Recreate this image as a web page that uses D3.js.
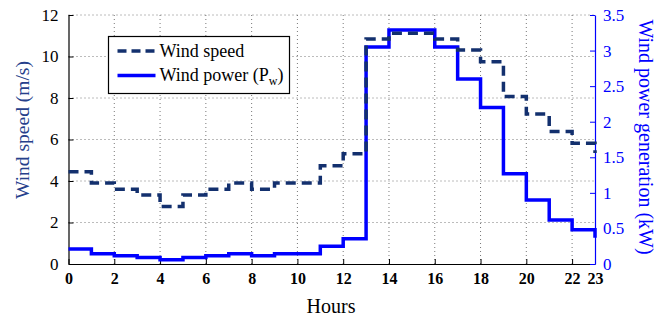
<!DOCTYPE html>
<html>
<head>
<meta charset="UTF-8">
<title>Wind speed and power</title>
<script src="https://cdn.jsdelivr.net/npm/d3@7"></script>
<style>
    body { margin: 0; background: #fff; }
    svg text { font-family: "Times New Roman", Times, "Liberation Serif", "DejaVu Serif", serif !important; }
</style>
</head>
<body>
<div id="chart"></div>
<script>

// hourly data, hour 0..23 (stairs)
var hours = d3.range(0, 24);
var windSpeed = [4.45, 3.9, 3.6, 3.33, 2.77, 3.33, 3.6, 3.9, 3.6, 3.9, 3.9, 4.73,
                 5.31, 10.84, 11.12, 11.12, 10.84, 10.31, 9.75, 8.07, 7.23, 6.38, 5.82, 5.35];
var windPower = [0.21, 0.145, 0.117, 0.093, 0.06, 0.093, 0.117, 0.145, 0.117, 0.145, 0.145, 0.25,
                 0.355, 3.05, 3.29, 3.29, 3.05, 2.6, 2.2, 1.27, 0.9, 0.62, 0.48, 0.37];
var xTicks = [0, 2, 4, 6, 8, 10, 12, 14, 16, 18, 20, 22, 23];
var leftTicks = [0, 2, 4, 6, 8, 10, 12];
var rightTicks = [0, 0.5, 1, 1.5, 2, 2.5, 3, 3.5];

var W = 667, H = 323;
var m = {left: 68.5, right: 72, top: 15, bottom: 59};

var navy = "#13306e", blue = "#0000ff";

var svg = d3.select("#chart").append("svg")
        .attr("width", W).attr("height", H);

var x = d3.scaleLinear().domain([0, 23]).range([m.left, W - m.right]);
var yL = d3.scaleLinear().domain([0, 12]).range([H - m.bottom, m.top]);
var yR = d3.scaleLinear().domain([0, 3.5]).range([H - m.bottom, m.top]);

// grid
var grid = svg.append("g")
        .attr("stroke", "#555").attr("stroke-width", 0.8)
        .attr("stroke-dasharray", "1,3");
grid.selectAll(".gx").data(xTicks.filter(function (d) { return d > 0 && d < 23; }))
        .enter().append("line")
        .attr("x1", function (d) { return x(d); }).attr("x2", function (d) { return x(d); })
        .attr("y1", yL(0)).attr("y2", yL(12));
grid.selectAll(".gy").data(leftTicks.filter(function (d) { return d > 0; }))
        .enter().append("line")
        .attr("x1", x(0)).attr("x2", x(23))
        .attr("y1", function (d) { return yL(d); }).attr("y2", function (d) { return yL(d); });

// axes
var xAxis = svg.append("g")
        .attr("transform", "translate(0," + yL(0) + ")")
        .call(d3.axisBottom(x).tickValues(xTicks).tickSizeInner(-5).tickSizeOuter(0).tickPadding(9));
xAxis.select(".domain").attr("stroke", "#000").attr("stroke-width", 1.2);
xAxis.selectAll("line").attr("stroke", "#000");
xAxis.selectAll("text").attr("font-size", 16).attr("font-weight", "bold").attr("fill", "#000");

var yAxisL = svg.append("g")
        .attr("transform", "translate(" + x(0) + ",0)")
        .call(d3.axisLeft(yL).tickValues(leftTicks).tickSizeInner(-5).tickSizeOuter(0).tickPadding(10));
yAxisL.select(".domain").attr("stroke", "#000").attr("stroke-width", 1.2);
yAxisL.selectAll("line").attr("stroke", "#000");
yAxisL.selectAll("text").attr("font-size", 17).attr("fill", "#000");

var yAxisR = svg.append("g")
        .attr("transform", "translate(" + x(23) + ",0)")
        .call(d3.axisRight(yR).tickValues(rightTicks).tickSizeInner(-5).tickSizeOuter(0).tickPadding(8)
                .tickFormat(function (d) { return d; }));
yAxisR.select(".domain").attr("stroke", blue).attr("stroke-width", 1.2);
yAxisR.selectAll("line").attr("stroke", blue);
yAxisR.selectAll("text").attr("font-size", 17).attr("fill", blue);

// series
var speedLine = d3.line()
        .x(function (d, i) { return x(hours[i]); })
        .y(function (d) { return yL(d); })
        .curve(d3.curveStepAfter);
var powerLine = d3.line()
        .x(function (d, i) { return x(hours[i]); })
        .y(function (d) { return yR(d); })
        .curve(d3.curveStepAfter);

svg.append("path").datum(windPower)
        .attr("d", powerLine)
        .attr("fill", "none").attr("stroke", blue).attr("stroke-width", 3.5);
svg.append("path").datum(windSpeed)
        .attr("d", speedLine)
        .attr("fill", "none").attr("stroke", navy).attr("stroke-width", 3.5)
        .attr("stroke-dasharray", "10,6");

// axis titles
svg.append("text")
        .attr("transform", "translate(29,130) rotate(-90)")
        .attr("text-anchor", "middle").attr("font-size", 19.5)
        .attr("fill", "#26408b").text("Wind speed (m/s)");
svg.append("text")
        .attr("transform", "translate(639,137) rotate(90)")
        .attr("text-anchor", "middle").attr("font-size", 20)
        .attr("fill", blue).text("Wind power generation (kW)");
svg.append("text")
        .attr("x", 331).attr("y", 313)
        .attr("text-anchor", "middle").attr("font-size", 20)
        .attr("fill", "#000").text("Hours");

// legend
var lg = svg.append("g").attr("transform", "translate(108.5,36.5)");
lg.append("rect").attr("width", 181).attr("height", 57)
        .attr("fill", "#fff").attr("stroke", "#000").attr("stroke-width", 1.2);
lg.append("line").attr("x1", 9).attr("x2", 47).attr("y1", 14.5).attr("y2", 14.5)
        .attr("stroke", navy).attr("stroke-width", 3.5).attr("stroke-dasharray", "9,5");
lg.append("line").attr("x1", 9).attr("x2", 47).attr("y1", 39).attr("y2", 39)
        .attr("stroke", blue).attr("stroke-width", 3.5);
lg.append("text").attr("x", 51).attr("y", 20.5).attr("font-size", 18)
        .attr("fill", "#000").text("Wind speed");
var t2 = lg.append("text").attr("x", 51).attr("y", 44).attr("font-size", 18).attr("fill", "#000");
t2.append("tspan").text("Wind power (P");
t2.append("tspan").attr("font-size", 12).attr("dy", 4).text("w");
t2.append("tspan").attr("dy", -4).text(")");

</script>
</body>
</html>
